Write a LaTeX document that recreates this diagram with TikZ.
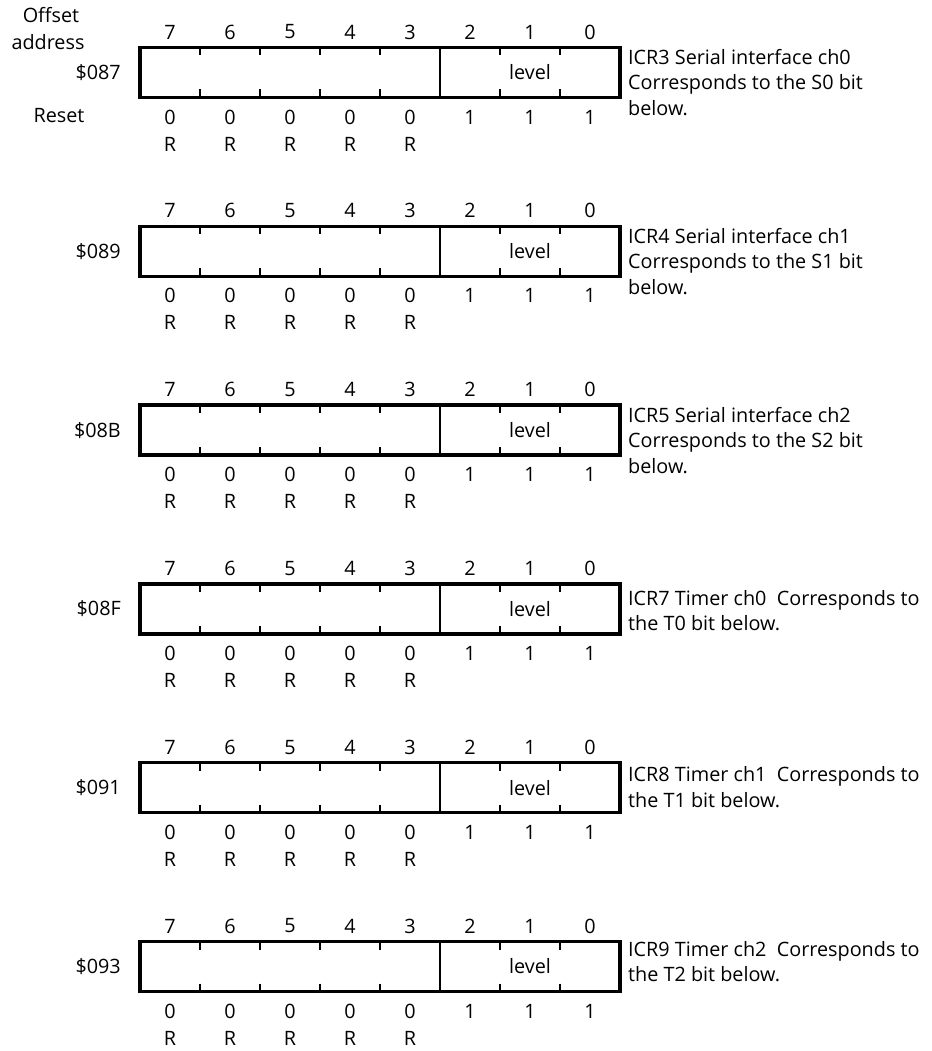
\documentclass[tikz,border=0pt]{standalone}
\usepackage{fontspec}
\setmainfont{Open Sans}
\begin{document}
\begin{tikzpicture}[x=1pt,y=-1pt,
  txt/.style={inner sep=0pt,font=\fontsize{19.8}{25.5}\selectfont},
  regbox/.style={line width=3.5pt},
  thin/.style={line width=1.5pt}]
\useasboundingbox (0,0) rectangle (931,1051);
\node[txt,anchor=base] (offs) at (51,23) {Offset};
\node[txt,anchor=base] (addrl) at (48,50) {address};
\node[txt,anchor=base] (rst) at (59,123) {Reset};
\foreach \i/\a/\d/\o in {
  0/{\$087}/{ICR3 Serial interface ch0\\Corresponds to the S0 bit\\below.}/9.5,
  1/{\$089}/{ICR4 Serial interface ch1\\Corresponds to the S1 bit\\below.}/9.5,
  2/{\$08B}/{ICR5 Serial interface ch2\\Corresponds to the S2 bit\\below.}/10,
  3/{\$08F}/{ICR7 Timer ch0\ \ Corresponds to\\the T0 bit below.}/14,
  4/{\$091}/{ICR8 Timer ch1\ \ Corresponds to\\the T1 bit below.}/12,
  5/{\$093}/{ICR9 Timer ch2\ \ Corresponds to\\the T2 bit below.}/7.5}{
  \pgfmathsetmacro\T{47.5+178.8*\i}
  \pgfmathsetmacro\B{\T+50}
  \pgfmathsetmacro\M{\T+25}
  % ticks
  \foreach \x in {200,260,320,380,500,560}{
    \draw[thin] (\x,\T) -- (\x,\T+8);
    \draw[thin] (\x,\B-8) -- (\x,\B);
  }
  \draw[thin] (440,\T) -- (440,\B);
  \draw[regbox] (140,\T) rectangle (620,\B);
  \node[txt] (lvl\i) at (530,\M) {level};
  \node[txt,anchor=base east] (adr\i) at (121,\M+7) {\a};
  \node[txt,anchor=north west,align=left] (desc\i) at (628,\T+\o-8) {\d};
  \foreach \b in {0,...,7}{
    \pgfmathsetmacro\cx{590-60*\b}
    \node[txt] (bit\i-\b) at (\cx,\T-15.5) {\b};
  }
  \foreach \b in {3,...,7}{
    \pgfmathsetmacro\cx{590-60*\b}
    \node[txt] (rv\i-\b) at (\cx,\B+19.5) {0};
    \node[txt] (rw\i-\b) at (\cx,\B+46.5) {R};
  }
  \foreach \b in {0,1,2}{
    \pgfmathsetmacro\cx{590-60*\b}
    \node[txt] (rv\i-\b) at (\cx,\B+19.5) {1};
  }
}
\end{tikzpicture}
\end{document}
